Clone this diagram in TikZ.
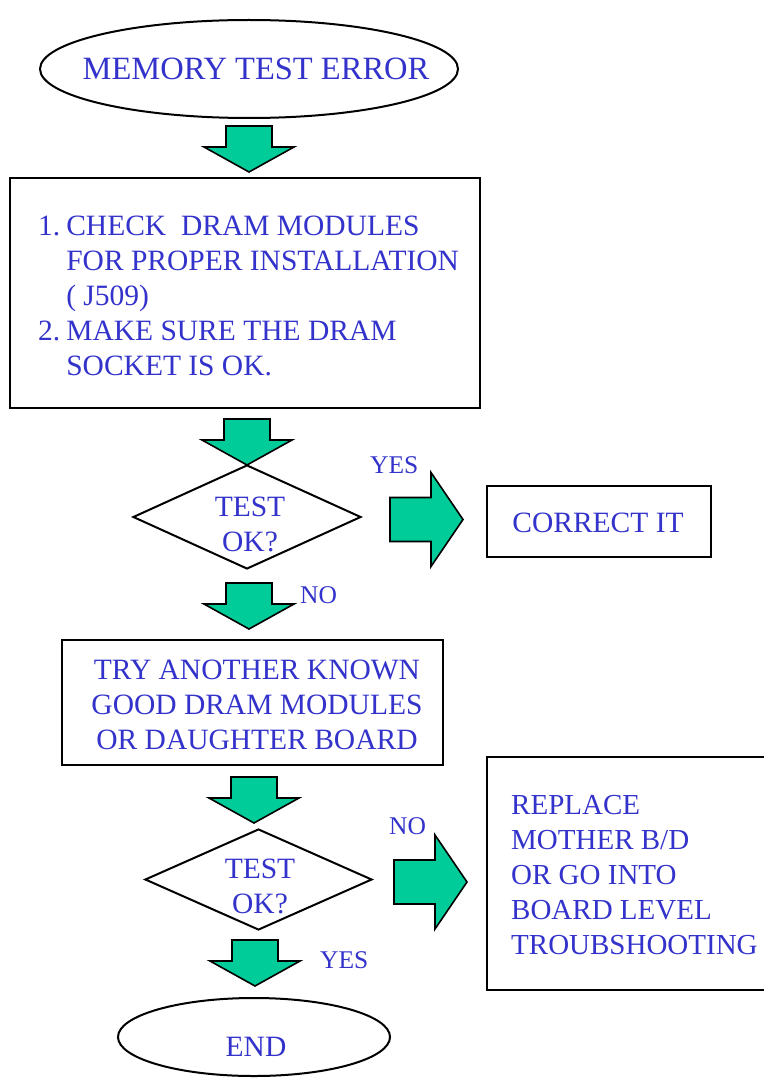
\documentclass[tikz,border=0pt]{standalone}
\usepackage{fontspec}
\setmainfont{Liberation Serif}
\usetikzlibrary{shapes.geometric}
\definecolor{txtblue}{RGB}{51,51,204}
\definecolor{arrgreen}{RGB}{0,204,153}
\begin{document}
\begin{tikzpicture}[x=1pt,y=-1pt,
  outline/.style={draw=black,line width=2pt,inner sep=0pt},
  lbl/.style={text=txtblue,font=\fontsize{29.5}{35}\selectfont,inner sep=0pt},
  small/.style={text=txtblue,font=\fontsize{25.5}{28}\selectfont,inner sep=0pt},
  blockarrow/.style={draw=black,fill=arrgreen,line width=1.6pt,line join=miter},
  downarr/.pic={\draw[blockarrow] (-23,0) -- (23,0) -- (23,21) -- (45,21) -- (0,46) -- (-45,21) -- (-23,21) -- cycle;},
  rightarr/.pic={\draw[blockarrow] (0,-22) -- (41,-22) -- (41,-47) -- (73,0) -- (41,47) -- (41,22) -- (0,22) -- cycle;}]
\useasboundingbox (0,0) rectangle (763,1078);
\fill[white] (0,0) rectangle (763,1078);

% shapes
\node[outline,ellipse,minimum width=418,minimum height=98] (start) at (249,69) {};
\node[outline,rectangle,minimum width=470,minimum height=230] (check) at (245,293) {};
\node[outline,diamond,minimum width=228,minimum height=104] (test1) at (247,517) {};
\node[outline,rectangle,minimum width=224,minimum height=71] (correct) at (599,521.5) {};
\node[outline,rectangle,minimum width=381,minimum height=125] (try) at (252.5,702.5) {};
\node[outline,diamond,minimum width=227,minimum height=101] (test2) at (258.5,879.5) {};
\node[outline,rectangle,minimum width=281,minimum height=233] (replace) at (627.5,873) {};
\node[outline,ellipse,minimum width=272,minimum height=78] (end) at (254,1037) {};

% block arrows
\pic at (249,126) {downarr};
\pic at (247,419) {downarr};
\pic at (249,583) {downarr};
\pic at (254,777) {downarr};
\pic at (255,940) {downarr};
\pic at (390,519.5) {rightarr};
\pic at (394,882) {rightarr};

% texts
\node[lbl,anchor=base,font=\fontsize{32.5}{38}\selectfont] (tstart) at (256,80) {MEMORY TEST ERROR};
\node[lbl,anchor=north west] (tcheck) at (38,211) {%
  \begin{tabular}[t]{@{}l@{\hspace{6pt}}l@{}}
  1. & CHECK\ \ DRAM MODULES\\
     & FOR PROPER INSTALLATION\\
     & ( J509)\\
  2. & MAKE SURE THE DRAM\\
     & SOCKET IS OK.
  \end{tabular}};
\node[lbl,anchor=base,align=center] (ttest1) at (250,551) {TEST\\OK?};
\node[lbl,anchor=base] (tcorrect) at (598,532) {CORRECT IT};
\node[small,anchor=base west] (yes1) at (370,473) {YES};
\node[small,anchor=base west] (no1) at (300,603) {NO};
\node[lbl,anchor=base,align=center] (ttry) at (257,749) {TRY ANOTHER KNOWN\\GOOD DRAM MODULES\\OR DAUGHTER BOARD};
\node[lbl,anchor=base,align=center] (ttest2) at (260,913) {TEST\\OK?};
\node[small,anchor=base west] (no2) at (389,834) {NO};
\node[lbl,anchor=base west,align=left,font=\fontsize{29}{35}\selectfont] (treplace) at (511,954) {REPLACE\\MOTHER B/D\\OR GO INTO\\BOARD LEVEL\\TROUBSHOOTING};
\node[small,anchor=base west] (yes2) at (320,968) {YES};
\node[lbl,anchor=base] (tend) at (256,1056) {END};
\end{tikzpicture}
\end{document}
